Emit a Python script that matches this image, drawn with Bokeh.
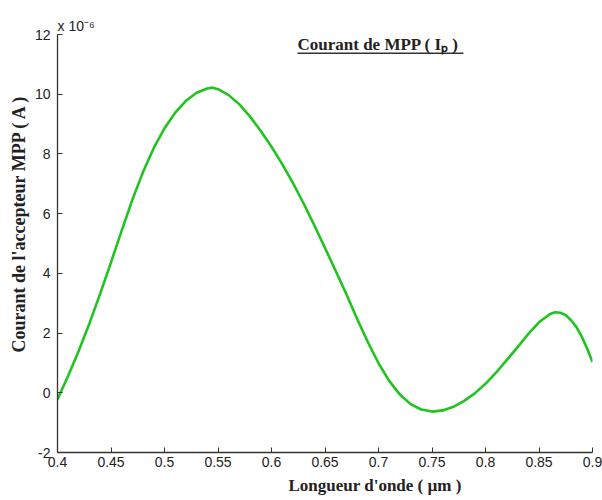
from bokeh.plotting import figure
from bokeh.models import Label, Range1d, FixedTicker, Title
from bokeh.embed import file_html
from bokeh.resources import INLINE

# ---- data ----
wavelength_um = [0.400, 0.410, 0.420, 0.430, 0.440, 0.450, 0.460, 0.470, 0.480, 0.490,
                 0.500, 0.510, 0.520, 0.530, 0.540, 0.545, 0.550, 0.560, 0.570, 0.580,
                 0.590, 0.600, 0.610, 0.620, 0.630, 0.640, 0.650, 0.660, 0.670, 0.680,
                 0.690, 0.700, 0.710, 0.720, 0.730, 0.740, 0.750, 0.760, 0.770, 0.780,
                 0.790, 0.800, 0.810, 0.820, 0.830, 0.840, 0.850, 0.860, 0.865, 0.870,
                 0.875, 0.880, 0.885, 0.890, 0.895, 0.900]
current_1e6_A = [-0.22, 0.57, 1.42, 2.34, 3.33, 4.37, 5.43, 6.47, 7.40, 8.20,
                 8.86, 9.38, 9.78, 10.05, 10.19, 10.22, 10.17, 9.97, 9.66, 9.25,
                 8.77, 8.24, 7.66, 7.03, 6.34, 5.61, 4.85, 4.08, 3.30, 2.48,
                 1.70, 0.99, 0.40, -0.06, -0.38, -0.56, -0.63, -0.59, -0.47, -0.27,
                 -0.02, 0.30, 0.68, 1.10, 1.53, 1.97, 2.36, 2.63, 2.70, 2.68,
                 2.60, 2.43, 2.20, 1.88, 1.48, 1.03]

x_ticks = [0.4, 0.45, 0.5, 0.55, 0.6, 0.65, 0.7, 0.75, 0.8, 0.85, 0.9]
x_tick_labels = ["0.4", "0.45", "0.5", "0.55", "0.6", "0.65", "0.7", "0.75", "0.8", "0.85", "0.9"]
y_ticks = [-2, 0, 2, 4, 6, 8, 10, 12]
y_tick_labels = ["-2", "0", "2", "4", "6", "8", "10", "12"]

title_text = "Courant de MPP ( I\u209a )"
x_label_text = "Longueur d'onde ( \u00b5m )"
y_label_text = "Courant de l'accepteur MPP ( A )"
scale_text = "x 10\u207b\u2076"

p = figure(width=602, height=500, output_backend="svg", toolbar_location=None,
           x_range=Range1d(0.4, 0.9), y_range=Range1d(-2, 12),
           min_border_left=57, min_border_top=34, min_border_bottom=48, min_border_right=10)
p.outline_line_color = None
p.grid.grid_line_color = None
p.background_fill_color = "white"
p.border_fill_color = "white"

p.line(wavelength_um, current_1e6_A, line_color="#1fc41f", line_width=2.6)

for ax in (p.xaxis, p.yaxis):
    ax.axis_line_color = "#333333"
    ax.axis_line_width = 1.3
    ax.major_tick_line_color = "#333333"
    ax.major_tick_in = 5
    ax.major_tick_out = 0
    ax.minor_tick_line_color = None
    ax.major_label_text_font = "Liberation Sans"
    ax.major_label_text_font_size = "14px"
    ax.major_label_text_color = "#222222"

p.xaxis.ticker = FixedTicker(ticks=x_ticks)
p.xaxis.major_label_overrides = {t: s for t, s in zip(x_ticks, x_tick_labels)}
p.xaxis.major_label_standoff = 4
p.yaxis.ticker = FixedTicker(ticks=y_ticks)
p.yaxis.major_label_overrides = {t: s for t, s in zip(y_ticks, y_tick_labels)}
p.yaxis.major_label_standoff = 7

serif = "Liberation Serif"
# title inside the plot, underlined
p.add_layout(Label(x=0.6243, y=11.67, text=title_text, text_font=serif,
                   text_font_style="bold", text_font_size="17px", text_color="#222222",
                   text_align="left", text_baseline="alphabetic"))
p.line([0.6243, 0.7794], [11.37, 11.37], line_color="#333333", line_width=1.6)

# axis titles as side-panel titles (so they are not clipped)
p.add_layout(Title(text=x_label_text, align="left", offset=231, standoff=9,
                   text_font=serif, text_font_style="bold", text_font_size="17px",
                   text_color="#222222"), "below")
p.add_layout(Title(text=y_label_text, align="left", offset=100, standoff=5,
                   text_font=serif, text_font_style="bold", text_font_size="18px",
                   text_color="#222222"), "left")
# exponent marker
p.add_layout(Title(text=scale_text, align="left", offset=0, standoff=2,
                   text_font="Liberation Sans", text_font_style="normal",
                   text_font_size="14px", text_color="#222222"), "above")

open("out.html", "w").write(file_html(p, INLINE))
